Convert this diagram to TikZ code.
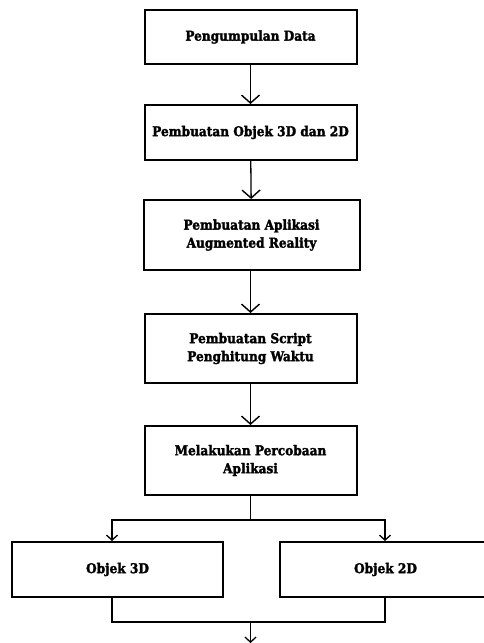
\documentclass[tikz,border=0pt]{standalone}
\usepackage{fontspec}
\newfontfamily\boxfont[FakeBold=2]{DejaVu Serif Condensed Bold}
\usetikzlibrary{arrows.meta}
\begin{document}
\begin{tikzpicture}[x=1pt,y=-1pt,
  box/.style={draw,line width=2pt,minimum height=#1,inner sep=0pt,align=center,
    font=\boxfont\fontsize{13.5}{18}\selectfont},
  box/.default=55pt,
  conn/.style={line width=1.3pt},
  arr/.style={conn,-{Straight Barb[length=8pt,width=18pt,line width=1.4pt]}},
  sarr/.style={conn,-{Straight Barb[length=5pt,width=11pt,line width=1.3pt]}}]
\clip (0,0) rectangle (484,643);
\useasboundingbox (0,0) rectangle (484,643);
\node[box=54pt,minimum width=212pt] (b1) at (250.5,37) {Pengumpulan Data};
\node[box=55pt,minimum width=212pt] (b2) at (250.5,132.5) {Pembuatan Objek 3D dan 2D};
\node[box=70pt,minimum width=216pt] (b3) at (251.5,235) {Pembuatan Aplikasi\\Augmented Reality};
\node[box=69pt,minimum width=212pt] (b4) at (250.5,348.5) {Pembuatan Script\\Penghitung Waktu};
\node[box=69pt,minimum width=212pt] (b5) at (250.5,460.5) {Melakukan Percobaan\\Aplikasi};
\node[box=55pt,minimum width=211pt] (o3) at (117.5,569.5) {Objek 3D};
\node[box=55pt,minimum width=211pt] (o2) at (385.5,569.5) {Objek 2D};
\draw[arr] (b1) -- (b2);
\draw[arr] (b2) -- (b3);
\draw[arr] (b3.south -| b2) -- (b4);
\draw[arr] (b4) -- (b5);
\coordinate (split) at (250.5,520);
\coordinate (sl) at (112,520);
\coordinate (sr) at (385,520);
\draw[conn] (b5.south) -- (split);
\draw[sarr] (split) -- (sl) -- (sl |- o3.north);
\draw[sarr] (split) -- (sr) -- (sr |- o2.north);
\coordinate (ml) at (112,622);
\coordinate (mr) at (385,622);
\coordinate (mc) at (250.5,622);
\coordinate (end) at (250.5,643);
\draw[conn] (o3.south -| ml) -- (ml) -- (mr) -- (o2.south -| mr);
\draw[sarr] (mc) -- (end);
\end{tikzpicture}
\end{document}
